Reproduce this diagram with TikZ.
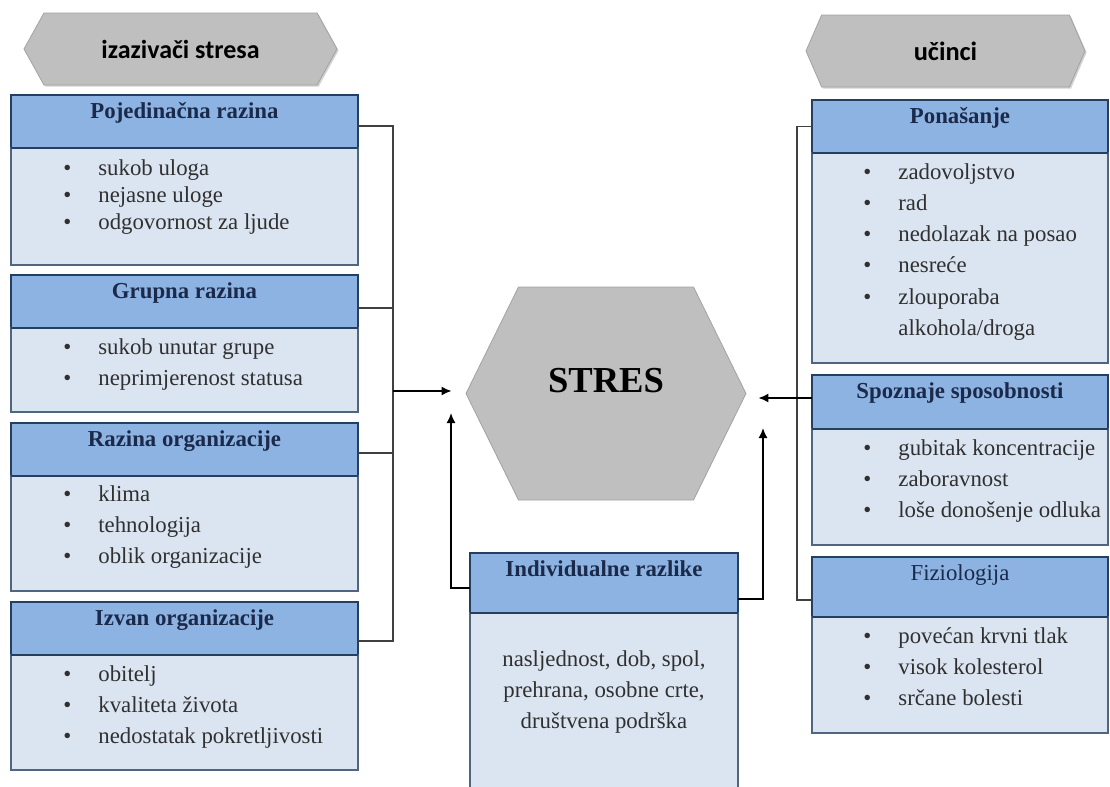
\documentclass[tikz,border=0pt]{standalone}
\usepackage{fontspec}
\setmainfont{Liberation Serif}
\newfontfamily\tagfont{Carlito}
\usepackage{tikz}
\usetikzlibrary{
    shapes, shapes.symbols, 
    arrows.meta, positioning, calc, 
    shadows
}
\definecolor{headBlue}{HTML}{8DB3E2}
\definecolor{bodyBlue}{HTML}{DBE5F1}
\definecolor{frameNavy}{HTML}{243F60}
\definecolor{titleNavy}{HTML}{1B2A4A}
\definecolor{bodyInk}{HTML}{303030}
\definecolor{hexGray}{HTML}{BFBFBF}
\definecolor{linkGray}{HTML}{404040}
\tikzset{
    cardHead/.style={rectangle, fill=headBlue, draw=frameNavy, line width=0.9pt, outer sep=0pt, inner sep=0pt},
    cardBody/.style={rectangle, fill=bodyBlue, draw=frameNavy!80, line width=0.6pt, outer sep=0pt, inner sep=0pt},
    cardRule/.style={draw=frameNavy, line width=1.2pt},
    cardTitle/.style={anchor=base, inner sep=0pt, text=titleNavy, font=\fontsize{11.4}{13.7}\selectfont\bfseries},
    itemList/.style={align=left, inner sep=0pt, text=bodyInk, font=\fontsize{11.4}{15.6}\selectfont},
    hexTag/.style={signal, signal to=west and east, fill=hexGray, draw=hexGray!85!black, line width=0.4pt, inner sep=0pt},
    link/.style={draw=linkGray, line width=0.6pt},
    arrowLink/.style={draw=black, line width=0.8pt, -{Latex[length=5pt, width=4.5pt]}}
}
\newcommand{\Itm}[1]{\makebox[17.5pt][l]{\textbullet}#1}
\newcommand{\DrawCard}[6]{
    \node[cardHead, minimum width=#3, minimum height=#4, anchor=north west] (#1H) at (#2) {};
    \node[cardBody, minimum width=#3, minimum height=#5, below=0pt of #1H] (#1B) {};
    \draw[cardRule] (#1B.north west) -- (#1B.north east);
    \node[cardTitle] at ([yshift=-11.5pt]#1H.north) {#6};
}

\begin{document}
\begin{tikzpicture}[x=0.5pt, y=-0.5pt]
    \path[use as bounding box, fill=white] (0,0) rectangle (1110,787);

    % Tags above the columns
    \node[hexTag, minimum width=156.5pt, minimum height=36pt, signal pointer angle=122,
          drop shadow={shadow xshift=0.8pt, shadow yshift=-0.8pt, opacity=0.35},
          font=\tagfont\fontsize{13}{15}\selectfont\bfseries] (causeTag) at (180.5,49) {izazivači stresa};
    \node[hexTag, minimum width=139.5pt, minimum height=36pt, signal pointer angle=133,
          drop shadow={shadow xshift=0.8pt, shadow yshift=-0.8pt, opacity=0.35},
          font=\tagfont\fontsize{13.2}{15}\selectfont\bfseries] (effectTag) at (945.5,51) {učinci};

    % Central hexagon
    \node[hexTag, minimum width=140pt, minimum height=106.5pt, signal pointer angle=127.5,
          text depth=13pt, font=\fontsize{18.3}{22}\selectfont\bfseries] (stres) at (606,393.5) {STRES};

    % Left column: stressors
    \DrawCard{poj}{11,95}{173.5pt}{26.5pt}{58.5pt}{Pojedinačna razina}
    \DrawCard{grup}{11,275}{173.5pt}{26.5pt}{42pt}{Grupna razina}
    \DrawCard{raz}{11,423}{173.5pt}{26.5pt}{57.5pt}{Razina organizacije}
    \DrawCard{izv}{11,602}{173.5pt}{26.5pt}{57.5pt}{Izvan organizacije}

    \node[itemList, below right=5.5pt and 26pt of pojB.north west] (pojList)
        {\Itm{sukob uloga}\\[-2.1pt] \Itm{nejasne uloge}\\[-2.1pt] \Itm{odgovornost za ljude}};
    \node[itemList, below right=5pt and 26pt of grupB.north west] (grupList)
        {\Itm{sukob unutar grupe}\\ \Itm{neprimjerenost statusa}};
    \node[itemList, below right=4.5pt and 26pt of razB.north west] (razList)
        {\Itm{klima}\\ \Itm{tehnologija}\\ \Itm{oblik organizacije}};
    \node[itemList, below right=5pt and 26pt of izvB.north west] (izvList)
        {\Itm{obitelj}\\ \Itm{kvaliteta života}\\ \Itm{nedostatak pokretljivosti}};

    % Right column: effects
    \DrawCard{pon}{812,100}{148pt}{26.5pt}{105pt}{Ponašanje}
    \DrawCard{spoz}{812,375}{148pt}{27pt}{58pt}{Spoznaje sposobnosti}
    \DrawCard{fiz}{812,557}{148pt}{30pt}{58pt}{\mdseries Fiziologija}

    \node[itemList, below right=5pt and 25.5pt of ponB.north west] (ponList)
        {\Itm{zadovoljstvo}\\ \Itm{rad}\\ \Itm{nedolazak na posao}\\ \Itm{nesreće}\\ \Itm{zlouporaba}\\ \hspace*{17.5pt}alkohola/droga};
    \node[itemList, below right=5pt and 25.5pt of spozB.north west] (spozList)
        {\Itm{gubitak koncentracije}\\ \Itm{zaboravnost}\\ \Itm{loše donošenje odluka}};
    \node[itemList, below right=5pt and 25.5pt of fizB.north west] (fizList)
        {\Itm{povećan krvni tlak}\\ \Itm{visok kolesterol}\\ \Itm{srčane bolesti}};

    % Middle card
    \DrawCard{ind}{470,553}{134pt}{30pt}{90pt}{Individualne razlike}
    \node[itemList, align=center, anchor=north] (indList) at ([yshift=-18.5pt]indB.north)
        {nasljednost, dob, spol,\\ prehrana, osobne crte,\\ društvena podrška};

    % Connectors
    \coordinate (brL) at (393,391);
    \coordinate (brR) at (797,398);
    \coordinate (upL) at (451,413);
    \coordinate (upR) at (763,428);
    \coordinate (pojC) at ([yshift=-2.25pt]pojH.east);
    \coordinate (grupC) at ([yshift=-3.25pt]grupH.east);
    \coordinate (razC) at ([yshift=-1.75pt]razH.east);
    \coordinate (izvC) at ([yshift=-6.25pt]izvH.east);
    \coordinate (spozC) at ([yshift=2pt]spozH.west);
    \coordinate (fizC) at ([yshift=-6.5pt]fizH.west);
    \coordinate (indLC) at ([yshift=-2.5pt]indH.west);
    \coordinate (indRC) at ([yshift=-8pt]indH.east);

    \draw[link] (pojC) -| (izvC -| brL) -- (izvC);
    \draw[link] (grupC) -- (grupC -| brL);
    \draw[link] (razC) -- (razC -| brL);
    \draw[arrowLink] (brL) -- (brL -| stres.west) [shorten >=7pt];

    \draw[link] (ponH.west) -| (fizC -| brR) -- (fizC);
    \draw[arrowLink, shorten >=6pt] (spozC) -- (spozC -| stres.east);

    \draw[arrowLink] (indLC) -| (upL);
    \draw[arrowLink] (indRC) -| (upR);
\end{tikzpicture}
\end{document}
